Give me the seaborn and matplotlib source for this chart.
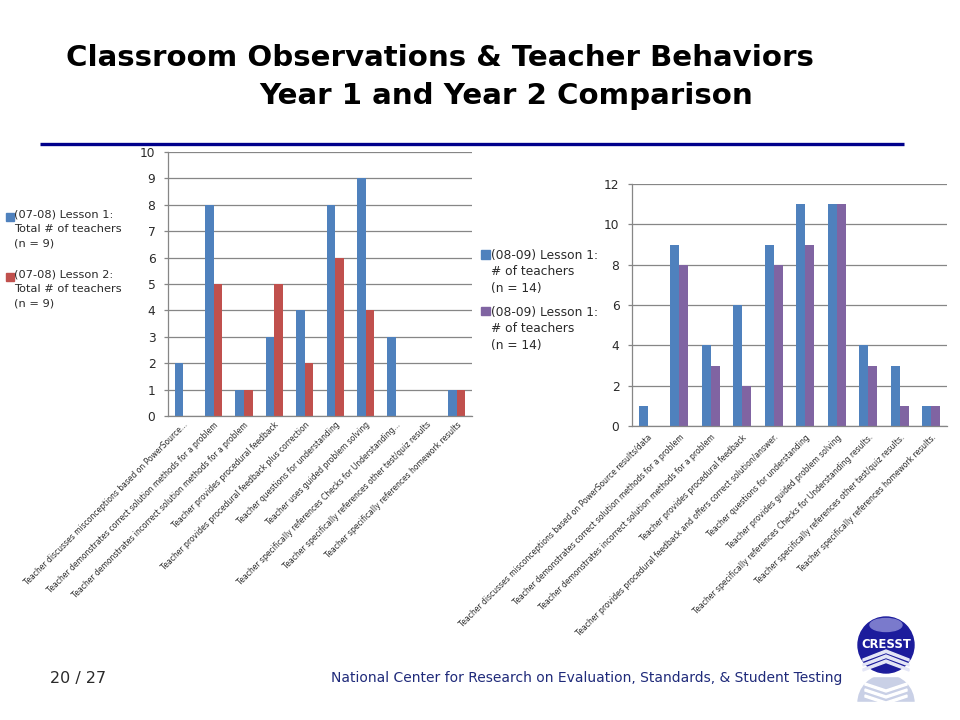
import matplotlib
matplotlib.use("Agg")
import matplotlib.pyplot as plt
import pandas as pd
import seaborn as sns
from matplotlib.patches import Ellipse, Polygon, Patch, Rectangle
from matplotlib.legend_handler import HandlerPatch
from matplotlib.lines import Line2D

sns.set_theme(style="white")
plt.rcParams['font.family'] = ['DejaVu Sans']

left_categories = [
    "Teacher discusses misconceptions based on PowerSource...",
    "Teacher demonstrates correct solution methods for a problem",
    "Teacher demonstrates incorrect solution methods for a problem",
    "Teacher provides procedural feedback",
    "Teacher provides procedural feedback plus correction",
    "Teacher questions for understanding",
    "Teacher uses guided problem solving",
    "Teacher specifically references Checks for Understanding...",
    "Teacher specifically references other test/quiz results",
    "Teacher specifically references homework results",
]
left_lesson1 = [2, 8, 1, 3, 4, 8, 9, 3, 0, 1]
left_lesson2 = [0, 5, 1, 5, 2, 6, 4, 0, 0, 1]
left_names = ["(07-08) Lesson 1:\nTotal # of teachers\n(n = 9)",
              "(07-08) Lesson 2:\nTotal # of teachers\n(n = 9)"]

right_categories = [
    "Teacher discusses misconceptions based on PowerSource results/data",
    "Teacher demonstrates correct solution methods for a problem",
    "Teacher demonstrates incorrect solution methods for a problem",
    "Teacher provides procedural feedback",
    "Teacher provides procedural feedback and offers correct solution/answer.",
    "Teacher questions for understanding",
    "Teacher provides guided problem solving",
    "Teacher specifically references Checks for Understanding results.",
    "Teacher specifically references other test/quiz results.",
    "Teacher specifically references homework results.",
]
right_lesson1 = [1, 9, 4, 6, 9, 11, 11, 4, 3, 1]
right_lesson2 = [0, 8, 3, 2, 8, 9, 11, 3, 1, 1]
right_names = ["(08-09) Lesson 1:\n# of teachers\n(n = 14)",
               "(08-09) Lesson 1:\n# of teachers\n(n = 14) "]

W, H = 960, 720
TEXT = "#2a2a2a"
fig = plt.figure(figsize=(9.6, 7.2), dpi=100, facecolor="white")


def axes_px(x0, x1, ytop, ybot):
    return fig.add_axes([x0 / W, 1 - ybot / H, (x1 - x0) / W, (ybot - ytop) / H])


def draw(ax, cats, a, b, names, colors, ymax, step, width, pad, xpad):
    df = pd.DataFrame({"cat": cats * 2, "val": a + b,
                       "series": [names[0]] * len(a) + [names[1]] * len(b)})
    sns.barplot(data=df, x="cat", y="val", hue="series", order=cats,
                hue_order=names, palette=colors, saturation=1, width=width,
                gap=0, ax=ax, legend=False, errorbar=None, linewidth=0)
    ax.set_xlim(-0.5, len(cats) - 0.5)
    ax.set_ylim(0, ymax)
    ax.set_yticks(range(0, ymax + 1, step))
    ax.set_xlabel("")
    ax.set_ylabel("")
    ax.yaxis.grid(True, color="#868686", lw=0.9)
    ax.set_axisbelow(True)
    for s in ("top", "right"):
        ax.spines[s].set_visible(False)
    for s in ("left", "bottom"):
        ax.spines[s].set_color("#868686")
        ax.spines[s].set_linewidth(0.9)
    ax.set_xticks([i - 0.5 for i in range(len(cats) + 1)], minor=True)
    ax.set_xticks(range(len(cats)))
    ax.set_xticklabels(cats, rotation=45, ha="right", rotation_mode="anchor",
                       fontsize=5.5, color=TEXT)
    ax.tick_params(axis="x", which="major", length=0, pad=xpad)
    ax.tick_params(axis="x", which="minor", length=3, color="#868686", width=0.9)
    ax.tick_params(axis="y", length=3, color="#868686", width=0.9,
                   labelsize=8.8, labelcolor=TEXT, left=True, pad=pad)


ax1 = axes_px(168, 472, 152, 416)
draw(ax1, left_categories, left_lesson1, left_lesson2, left_names,
     ["#4F81BD", "#C0504D"], 10, 1, 0.56, 6, 3)
ax2 = axes_px(632, 947, 184, 426)
draw(ax2, right_categories, right_lesson1, right_lesson2, right_names,
     ["#4F81BD", "#8064A2"], 12, 2, 0.56, 6, 5)


def square_at(offset):
    def make(legend, orig_handle, xdescent, ydescent, width, height, fontsize):
        side = fontsize * 0.72
        return Rectangle((-xdescent, -ydescent + fontsize * offset), side, side)
    return make


def legend(names, colors, x, ytop, size, spacing, linespacing, offset, textpad):
    handles = [Patch(color=c) for c in colors]
    leg = fig.legend(handles, names, loc="upper left",
                     bbox_to_anchor=(x / W, 1 - ytop / H), frameon=False,
                     fontsize=size, labelspacing=spacing, handletextpad=textpad,
                     borderpad=0, borderaxespad=0, handlelength=1.0,
                     labelcolor=TEXT,
                     handler_map={Patch: HandlerPatch(patch_func=square_at(offset))})
    for t in leg.get_texts():
        t.set_linespacing(linespacing)
    return leg


legend(left_names, ["#4F81BD", "#C0504D"], 6, 209, 8.2, 1.8, 1.6, 1.06, -0.3)
legend(right_names, ["#4F81BD", "#8064A2"], 481, 249, 8.8, 0.9, 1.34, 1.5, -0.2)

# Slide furniture
fig.text(66 / W, 1 - 58 / H, "Classroom Observations & Teacher Behaviors",
         fontsize=21.1, fontweight="bold", color="black", va="center", ha="left")
fig.text(259 / W, 1 - 96 / H, "Year 1 and Year 2 Comparison",
         fontsize=21.1, fontweight="bold", color="black", va="center", ha="left")
fig.add_artist(Line2D([40 / W, 904 / W], [1 - 144 / H, 1 - 144 / H],
                      color="#00008B", lw=2.4, solid_capstyle="butt"))
fig.text(50 / W, 1 - 678 / H, "20 / 27", fontsize=11.5, color=TEXT,
         va="center", ha="left")
fig.text(331 / W, 1 - 678 / H,
         "National Center for Research on Evaluation, Standards, & Student Testing",
         fontsize=10, color="#1F2A7A", va="center", ha="left")

# CRESST logo
logo = fig.add_axes([0, 0, 1, 1], facecolor="none", zorder=5)
logo.set_xlim(0, W)
logo.set_ylim(H, 0)
logo.axis("off")
logo.add_patch(Ellipse((886, 703), 56, 56, color="#C9D0E6"))
logo.add_patch(Rectangle((850, 702), 72, 18, color="white"))
logo.add_patch(Rectangle((850, 672), 72, 4, color="white"))
logo.add_patch(Ellipse((886, 645), 56, 56, color="#1C1C9C"))
logo.add_patch(Ellipse((886, 625), 32, 13, color="#7A7ACC"))
logo.text(886, 645, "CRESST", color="white", fontsize=8.4, fontweight="bold",
          ha="center", va="center")
for dy in (0, 5, 10):
    logo.add_patch(Polygon([[863, 659 + dy], [886, 650 + dy], [909, 659 + dy],
                            [909, 661 + dy], [886, 652.5 + dy], [863, 661 + dy]],
                           color="#E4E6F6"))
for dy in (0, 6, 12):
    logo.add_patch(Polygon([[865, 683 + dy], [886, 690 + dy], [907, 683 + dy],
                            [907, 685 + dy], [886, 692 + dy], [865, 685 + dy]],
                           color="white"))

fig.savefig("out.png", dpi=100)
